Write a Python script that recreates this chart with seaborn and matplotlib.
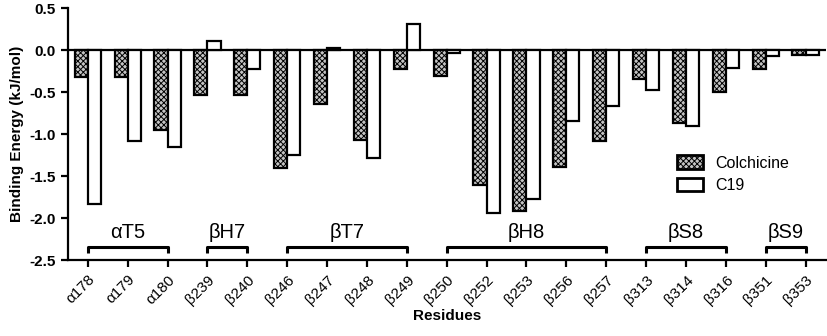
import matplotlib
matplotlib.use('Agg')
import matplotlib.pyplot as plt
import numpy as np
import pandas as pd
import seaborn as sns

# Residues and binding energies (kJ/mol)
residues = ['α178', 'α179', 'α180', 'β239', 'β240', 'β246', 'β247', 'β248', 'β249',
            'β250', 'β252', 'β253', 'β256', 'β257', 'β313', 'β314', 'β316', 'β351', 'β353']
colchicine = [-0.32, -0.32, -0.95, -0.54, -0.53, -1.40, -0.64, -1.07, -0.23,
              -0.31, -1.61, -1.92, -1.39, -1.08, -0.35, -0.87, -0.50, -0.22, -0.06]
c19 = [-1.83, -1.08, -1.15, 0.11, -0.22, -1.25, 0.03, -1.29, 0.31,
       -0.03, -1.94, -1.77, -0.85, -0.66, -0.48, -0.90, -0.21, -0.07, -0.06]

# Secondary structure groups: (label, first residue, last residue)
groups = [('αT5', 'α178', 'α180'), ('βH7', 'β239', 'β240'), ('βT7', 'β246', 'β249'),
          ('βH8', 'β250', 'β257'), ('βS8', 'β313', 'β316'), ('βS9', 'β351', 'β353')]

df = pd.DataFrame({
    'Residue': residues * 2,
    'Compound': ['Colchicine'] * len(residues) + ['C19'] * len(residues),
    'Energy': colchicine + c19,
})

sns.set_style('ticks')
plt.rcParams['font.family'] = ['Liberation Sans', 'DejaVu Sans']
plt.rcParams['hatch.linewidth'] = 0.7
for key in ['text.color', 'axes.labelcolor', 'xtick.color', 'ytick.color', 'axes.edgecolor']:
    plt.rcParams[key] = 'black'

fig, ax = plt.subplots(figsize=(8.28, 3.36), dpi=100)
fig.subplots_adjust(left=0.082, right=0.997, top=0.976, bottom=0.226)

sns.barplot(data=df, x='Residue', y='Energy', hue='Compound', order=residues,
            palette={'Colchicine': '#c4c4c4', 'C19': 'white'},
            width=0.66, edgecolor='black', linewidth=1.6, ax=ax)

for bar in ax.containers[0]:
    bar.set_hatch('xxxxxx')

ax.axhline(0, color='black', lw=1.6, zorder=0)
ax.set_ylim(-2.5, 0.5)
ax.set_xlim(-0.5, len(residues) - 0.5)
ax.set_yticks([0.5, 0.0, -0.5, -1.0, -1.5, -2.0, -2.5])
ax.set_yticklabels(['0.5', '0.0', '-0.5', '-1.0', '-1.5', '-2.0', '-2.5'],
                   fontsize=11, fontweight='bold')
ax.set_xticks(range(len(residues)))
ax.set_xticklabels(residues, rotation=45, ha='right', rotation_mode='anchor', fontsize=11)
ax.tick_params(axis='both', width=1.6, length=5, color='black')
ax.tick_params(axis='x', pad=4)
for side in ['left', 'bottom']:
    ax.spines[side].set_linewidth(1.6)
sns.despine(ax=ax)

ax.set_ylabel('Binding Energy (kJ/mol)', fontsize=11, fontweight='bold', labelpad=4)
ax.set_xlabel('Residues', fontsize=11, fontweight='bold', labelpad=2)

# Brackets for secondary structure elements
for label, start, end in groups:
    i0, i1 = residues.index(start), residues.index(end)
    ax.plot([i0, i0, i1, i1], [-2.41, -2.35, -2.35, -2.41], color='black', lw=2.2,
            solid_capstyle='butt', clip_on=False)
    ax.text((i0 + i1) / 2, -2.28, label, ha='center', va='bottom', fontsize=14.5)

leg = ax.legend(loc='upper left', bbox_to_anchor=(0.785, 0.472), frameon=False,
                fontsize=11.5, handlelength=1.6, handleheight=0.9, handletextpad=0.8,
                labelspacing=0.45)
handles = leg.legend_handles
handles[0].set_hatch('xxxxxx')
for h in handles:
    h.set_linewidth(2.0)

plt.savefig('out.png', dpi=100)
